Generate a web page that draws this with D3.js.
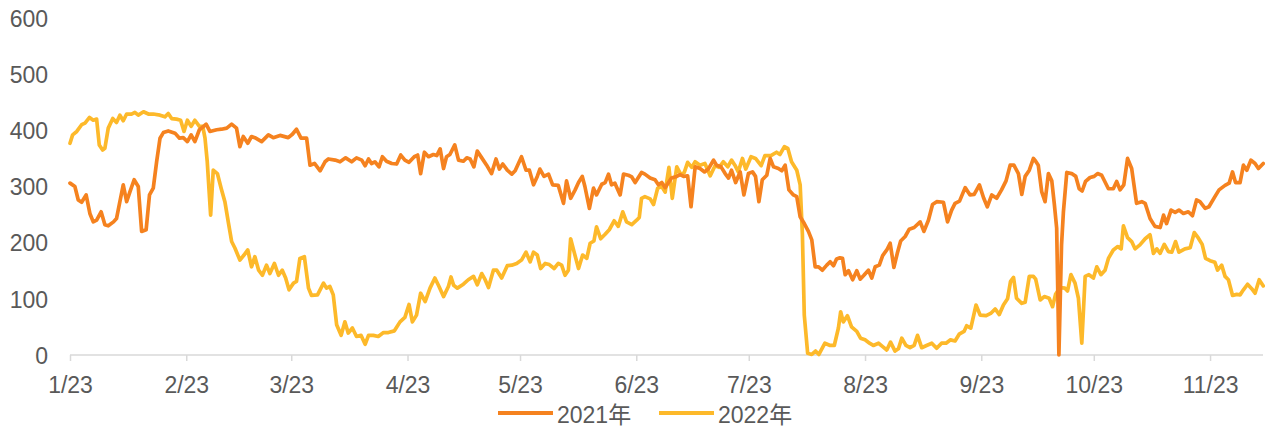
<!DOCTYPE html>
<html>
<head>
<meta charset="utf-8">
<script src="https://cdn.jsdelivr.net/npm/d3@7"></script>
<style>
  html, body { margin: 0; padding: 0; background: #ffffff; }
  svg { display: block; }
  text { font-family: "Liberation Sans", Arial, "Noto Sans CJK SC", sans-serif; fill: #595959; }
</style>
</head>
<body>
<svg id="chart" width="1265" height="428"></svg>
<script>
// Days counted from 1/23
const seriesNames = ["2021年", "2022年"];

const days2021 = [0,1.3,2.2,3.1,4.3,5.3,6.2,7.1,8.3,9.3,10.2,11.6,12.4,13.3,14.2,15.1,16,17.1,18.2,19.1,20.3,21.2,22.2,23.1,24,24.9,26.2,28,29.2,30.2,31.3,32.3,33.3,34.5,35.1,36.3,37.3,39.1,40.4,41.8,43.1,44.4,45.3,46.2,47.4,48.4,
49.3,51.1,52.9,54.2,56,58.2,59.3,60.4,61.6,63.1,64,65.2,66.7,68,68.9,70.7,72,73.5,75.1,76.4,77.8,78.7,79.6,80.4,81.3,82.4,83.3,84.4,85.8,87.1,88.2,89.3,90.4,91.8,92.7,93.5,94.5,95.6,96.9,97.8,98.7,99.6,100.4,
101.3,102.6,103.6,104.9,105.8,106.7,107.7,108.6,109.8,111.1,112.4,113.6,114.5,115.4,116.6,117.8,118.7,120.4,121.6,122.5,123.6,124.6,125.3,126.4,127.6,128.7,130.2,131.6,132.4,133.5,134.7,135.6,136.6,137.3,138.5,139.6,140.4,141.8,142.7,143.6,144.4,145.3,146.7,147.6,148.9,149.8,150.7,152.4,
153.3,154.7,156,156.9,157.8,158.7,159.6,160.4,161.8,162.7,163.6,164.7,165.6,166.7,168,169.2,170.2,171.6,172.4,173.6,174.7,175.6,176.4,177.5,178.7,179.7,180.9,182,182.8,183.7,184.6,185.8,186.7,187.6,188.9,189.8,190.7,191.7,192.9,193.8,194.7,195.8,196.9,197.8,198.7,199.6,200.6,201.8,202.7,203.6,204.4,
205.3,206,206.7,207.6,208.7,209.8,210.7,211.7,212.9,213.8,214.7,215.8,216.7,217.8,218.7,219.7,220.6,221.5,222.7,223.8,225.1,226.7,227.7,228.9,230,231.1,232.9,234,235.1,236,237.2,238.7,240,241.1,242.5,243.6,244.6,245.8,247.1,248.4,249.6,250.7,251.7,252.9,253.8,254.7,255.8,256.9,
257.5,258.2,259.1,260,260.9,261.8,262.5,263.1,263.7,264.4,264.9,265.8,267.1,268.2,269.1,269.9,270.8,272,273.1,274,275.1,276.9,278.2,279.1,280,281,282,283.1,284.4,285.8,286.7,288,289.3,290.7,291.6,292.4,293.6,294.7,295.7,296.9,298.2,299.3,300.4,301.3,302.7,303.7,305.3,306.4,308,309.1,310,310.8,312,312.9,313.8,314.9,316,316.9,318.2];

const values2021 = [306,300,276,272,285,252,237,240,255,232,230,237,243,273,303,273,291,312,300,220,223,285,297,344,386,396,399,395,386,387,380,392,380,401,404,411,398,401,402,404,411,404,371,389,377,389,
387,380,392,387,391,387,393,402,386,386,338,341,328,344,349,347,344,351,344,351,347,337,349,341,344,335,353,345,341,340,356,347,343,353,356,323,361,353,357,355,367,332,353,
357,374,347,345,351,349,335,363,351,338,323,349,331,340,329,322,328,353,329,329,303,318,331,318,322,303,302,270,310,279,294,307,318,300,261,297,285,304,307,322,303,306,285,322,320,317,307,325,
322,315,312,303,307,298,307,315,318,321,318,319,264,335,332,326,331,347,338,335,323,315,329,307,326,285,323,326,318,273,312,320,350,335,332,328,338,294,285,282,246,234,220,205,157,157,151,160,166,159,171,
173,172,143,150,134,150,135,142,151,137,157,160,177,187,199,156,181,203,211,224,227,237,220,240,268,273,272,237,258,270,274,298,285,286,303,280,264,285,279,294,310,338,338,323,286,318,329,350,
345,338,291,273,323,310,267,226,0,196,255,325,323,318,296,292,309,316,318,323,320,296,296,309,294,303,350,332,270,273,270,243,229,227,249,234,258,254,258,252,255,248,276,273,261,264,282,294,302,306,326,307,307,338,329,347,341,332,341];

const days2022 = [0,0.7,1.8,3.1,4,5.2,6.2,7.1,7.8,8.7,9.3,10.2,11.4,12.4,13.3,14.2,15.1,16.4,17.3,18.2,19.6,20.9,22.2,24,25.3,26.2,27.1,28.4,29.5,30.4,31.3,32.3,33.3,34.5,35.4,36,36.6,37.5,38.2,39.3,40.3,41.3,42.2,43.1,44,45.3,46.4,47.4,48.4,
49.3,50.3,51.3,52.4,53.3,54.5,55.6,56.6,57.5,58.4,59.6,60.4,61.3,62.5,63.6,64.4,66,67.6,68.4,69.3,70.2,71.1,72.3,73.3,74.2,75.3,76.4,77.6,78.7,79.6,80.9,82.2,83.6,84.9,86.5,88,89.3,90.4,91.3,92.4,93.5,94.7,96,97.3,98.4,99.6,100.9,
101.6,102.3,103.3,104.9,106.2,107.6,108.6,109.8,110.7,111.6,112.9,113.8,115.1,116.6,117.8,119.1,120.4,121.6,122.7,123.6,124.6,125.5,126.7,127.8,129.1,130.2,131.1,132,132.9,133.5,134.4,135.6,136.7,137.8,138.7,139.7,140.4,141.5,142.7,143.8,145.1,146.2,147.4,148.4,149.8,151.1,151.8,152.4,
153.3,154.7,155.6,156.7,157.8,158.7,159.7,160.6,161.8,162.9,163.8,164.7,165.8,166.7,168,169.3,170.7,172,173.1,174.2,175.4,176.4,177.3,178.2,179.3,180.2,181.6,182.8,184.3,185.3,186.9,188.4,189.3,190.5,191.4,192.4,193.8,194.7,195.3,195.8,196.7,197.8,198.8,199.7,201.3,202.7,203.8,204.9,
205.5,206.2,207.3,208.4,209.8,210.8,212,213.2,214.2,215.6,216.7,217.8,218.8,220,220.9,221.8,222.9,224,225.1,226,227.1,228.4,229.8,231.1,232.4,233.6,234.8,236,237.1,238.4,239.1,240.2,241.6,242.7,244.3,245.5,246.7,247.8,248.9,250,250.8,251.6,252.4,253.8,254.7,255.8,256.9,
257.5,258.7,259.8,261.1,262,262.8,264,265.3,266,266.9,268,268.9,269.8,270.7,271.7,272.9,273.8,274.9,276,276.9,278.2,279.4,280.3,280.9,282,283.1,284,285.3,286.7,288,288.9,289.8,290.7,291.8,292.9,293.8,294.8,295.7,297.3,298.7,299.8,300.9,301.9,302.8,304,305.3,306,307.1,308,308.9,310,311.1,312,312.9,314,315.1,316,317.1,318.2];

const values2022 = [377,392,398,410,413,423,418,420,374,365,368,404,421,414,427,417,429,429,432,427,433,429,429,427,424,430,421,420,418,398,418,407,418,407,407,386,344,249,329,323,297,273,237,202,190,169,178,187,157,
175,151,142,160,145,163,142,151,137,116,128,131,172,175,119,106,107,128,119,122,107,54,35,59,39,48,33,35,19,35,35,33,40,40,43,59,67,90,59,71,110,95,119,137,122,104,122,
139,124,119,126,134,140,125,145,134,120,151,151,137,159,160,163,169,183,166,183,178,154,163,161,154,163,160,142,151,207,184,154,178,172,199,203,228,207,215,223,239,229,255,237,232,240,245,279,
282,278,268,297,300,290,334,279,335,321,325,343,334,344,338,341,319,337,334,344,335,347,338,326,350,331,353,350,337,355,355,361,357,371,368,344,329,303,214,71,3,1,7,1,21,17,17,48,
77,59,70,50,42,30,27,21,17,21,15,9,23,7,11,30,17,13,17,35,13,17,21,12,21,21,27,25,37,42,52,48,89,71,70,74,82,72,89,100,131,138,101,92,94,140,140,
135,98,104,101,86,108,120,119,114,143,128,101,21,140,143,137,157,143,151,172,187,193,189,230,209,202,189,196,207,214,181,189,181,197,184,183,202,183,189,191,218,208,197,172,168,165,151,160,140,134,106,108,107,116,126,118,110,134,123];

const tickDays = [0,31,59,90,120,151,181,212,243,273,304];
const tickLabels = ["1/23","2/23","3/23","4/23","5/23","6/23","7/23","8/23","9/23","10/23","11/23"];
const yTicks = [0,100,200,300,400,500,600];
const colors = ["#F5821F", "#FDB92A"];

const svg = d3.select("#chart");
const x = d3.scaleLinear().domain([0, 318.2]).range([70, 1263.3]);
const y = d3.scaleLinear().domain([0, 600]).range([355, 18]);

// y labels
svg.append("g").selectAll("text").data(yTicks).join("text")
  .attr("x", 48).attr("y", d => y(d)).attr("dy", "0.38em")
  .attr("text-anchor", "end").style("font-size", "23px")
  .text(d => d);

// x axis
const xAxis = d3.axisBottom(x).tickValues(tickDays).tickSize(6)
  .tickFormat((d, i) => tickLabels[i]);
const gx = svg.append("g").attr("transform", "translate(0,355)").call(xAxis);
gx.select(".domain").attr("stroke", "#D9D9D9").attr("stroke-width", 1.5)
  .attr("d", "M70,0H1263");
gx.selectAll(".tick line").attr("stroke", "#D9D9D9").attr("stroke-width", 1.5);
gx.selectAll(".tick text").attr("y", 38).attr("dy", 0)
  .style("font-size", "23px").attr("fill", "#595959")
  .style("font-family", "'Liberation Sans', Arial, sans-serif");

const line = d3.line().x(d => x(d[0])).y(d => y(d[1])).curve(d3.curveLinear);
const series = [
  {name: seriesNames[0], data: d3.zip(days2021, values2021), color: colors[0]},
  {name: seriesNames[1], data: d3.zip(days2022, values2022), color: colors[1]}
];
// draw 2022 first so 2021 sits on top
[series[1], series[0]].forEach(s => {
  svg.append("path").datum(s.data)
    .attr("fill", "none").attr("stroke", s.color).attr("stroke-width", 3.7)
    .attr("stroke-linejoin", "round").attr("stroke-linecap", "round")
    .attr("d", line);
});

// legend
const legendX = [498, 659];
series.forEach((s, i) => {
  svg.append("line").attr("x1", legendX[i]).attr("x2", legendX[i] + 55)
    .attr("y1", 413).attr("y2", 413)
    .attr("stroke", s.color).attr("stroke-width", 4);
  svg.append("text").attr("x", legendX[i] + 59).attr("y", 423)
    .style("font-size", "23px").text(s.name);
});
</script>
</body>
</html>
